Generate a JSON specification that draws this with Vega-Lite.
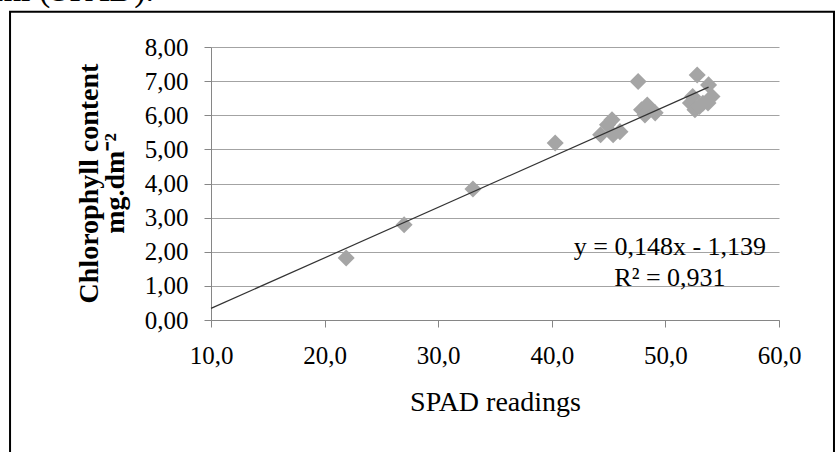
{
  "$schema": "https://vega.github.io/schema/vega-lite/v6.json",
  "width": 568,
  "height": 273,
  "autosize": "none",
  "padding": {"left": 211, "top": 47, "right": 58, "bottom": 132},
  "background": "white",
  "config": {
    "view": {"stroke": null},
    "font": "Liberation Serif",
    "axis": {
      "domainColor": "#868686",
      "tickColor": "#868686",
      "tickSize": 7,
      "labelFont": "Liberation Serif",
      "labelFontSize": 25,
      "labelColor": "black",
      "labelPadding": 16,
      "labelFlush": false,
      "labelOverlap": false,
      "titleFont": "Liberation Serif",
      "titleColor": "black"
    }
  },
  "title": {
    "text": "ml (SPAD).",
    "anchor": "start",
    "align": "right",
    "dx": -57,
    "dy": 24,
    "orient": "top",
    "frame": "group",
    "offset": 0,
    "baseline": "alphabetic",
    "font": "Liberation Serif",
    "fontSize": 34,
    "fontWeight": "normal",
    "color": "black"
  },
  "datasets": {
    "points": [
      {"SPAD": 21.9, "chl": 1.82},
      {"SPAD": 27.0, "chl": 2.79},
      {"SPAD": 33.06, "chl": 3.84},
      {"SPAD": 40.3, "chl": 5.19},
      {"SPAD": 44.3, "chl": 5.43},
      {"SPAD": 44.9, "chl": 5.72},
      {"SPAD": 45.3, "chl": 5.87},
      {"SPAD": 45.4, "chl": 5.43},
      {"SPAD": 46.0, "chl": 5.52},
      {"SPAD": 47.6, "chl": 6.99},
      {"SPAD": 47.9, "chl": 6.16},
      {"SPAD": 48.2, "chl": 6.01},
      {"SPAD": 48.4, "chl": 6.30},
      {"SPAD": 49.1, "chl": 6.07},
      {"SPAD": 52.2, "chl": 6.36},
      {"SPAD": 52.4, "chl": 6.55},
      {"SPAD": 52.6, "chl": 6.16},
      {"SPAD": 52.8, "chl": 7.18},
      {"SPAD": 53.0, "chl": 6.26},
      {"SPAD": 53.3, "chl": 6.35},
      {"SPAD": 53.75, "chl": 6.36},
      {"SPAD": 53.8, "chl": 6.89},
      {"SPAD": 54.1, "chl": 6.55}
    ],
    "trend": [
      {"SPAD": 10, "chl": 0.341},
      {"SPAD": 53.8, "chl": 6.823}
    ],
    "one": [{}]
  },
  "layer": [
    {
      "data": {"name": "points"},
      "mark": {"type": "point", "shape": "diamond", "filled": true, "size": 290, "color": "#a5a5a5", "opacity": 1},
      "encoding": {
        "x": {
          "field": "SPAD", "type": "quantitative",
          "scale": {"domain": [10, 60], "nice": false, "zero": false},
          "axis": {
            "values": [10, 20, 30, 40, 50, 60],
            "labelExpr": "replace(format(datum.value, '.1f'), '.', ',')",
            "title": "SPAD readings",
            "grid": false,
            "titleFontSize": 28,
            "titleFontWeight": "normal",
            "titlePadding": 20
          }
        },
        "y": {
          "field": "chl", "type": "quantitative",
          "scale": {"domain": [0, 8], "nice": false, "zero": false},
          "axis": {
            "values": [0, 1, 2, 3, 4, 5, 6, 7, 8],
            "tickCount": 9,
            "labelExpr": "replace(format(datum.value, '.2f'), '.', ',')",
            "title": ["Chlorophyll content", "mg.dm⁻²"],
            "grid": true,
            "gridColor": "#a3a3a3",
            "titleFontSize": 28,
            "titleFontWeight": "bold",
            "titleAngle": 270,
            "titleX": -122,
            "titleY": 136,
            "titleAlign": "center",
            "titleBaseline": "middle",
            "titleLineHeight": 26
          }
        }
      }
    },
    {
      "data": {"name": "trend"},
      "mark": {"type": "line", "color": "#333333", "strokeWidth": 1.2},
      "encoding": {
        "x": {"field": "SPAD", "type": "quantitative", "axis": {"values": [10, 20, 30, 40, 50, 60]}},
        "y": {"field": "chl", "type": "quantitative", "axis": {"values": [0, 1, 2, 3, 4, 5, 6, 7, 8], "tickCount": 9}}
      }
    },
    {
      "data": {"name": "one"},
      "mark": {"type": "text", "align": "center", "baseline": "alphabetic", "font": "Liberation Serif", "fontSize": 26, "lineHeight": 31, "color": "black"},
      "encoding": {
        "x": {"datum": 50.4, "type": "quantitative", "axis": {"values": [10, 20, 30, 40, 50, 60]}},
        "y": {"datum": 1.91, "type": "quantitative", "axis": {"values": [0, 1, 2, 3, 4, 5, 6, 7, 8], "tickCount": 9}},
        "text": {"value": ["y = 0,148x - 1,139", "R² = 0,931"]}
      }
    },
    {
      "data": {"name": "one"},
      "mark": {"type": "rect", "fill": "transparent", "stroke": "black", "strokeWidth": 2, "clip": false},
      "encoding": {
        "x": {"datum": -7.69, "type": "quantitative", "axis": {"values": [10, 20, 30, 40, 50, 60]}},
        "x2": {"datum": 64.84},
        "y": {"datum": 9.03, "type": "quantitative", "axis": {"values": [0, 1, 2, 3, 4, 5, 6, 7, 8], "tickCount": 9}},
        "y2": {"datum": -5}
      }
    }
  ]
}
